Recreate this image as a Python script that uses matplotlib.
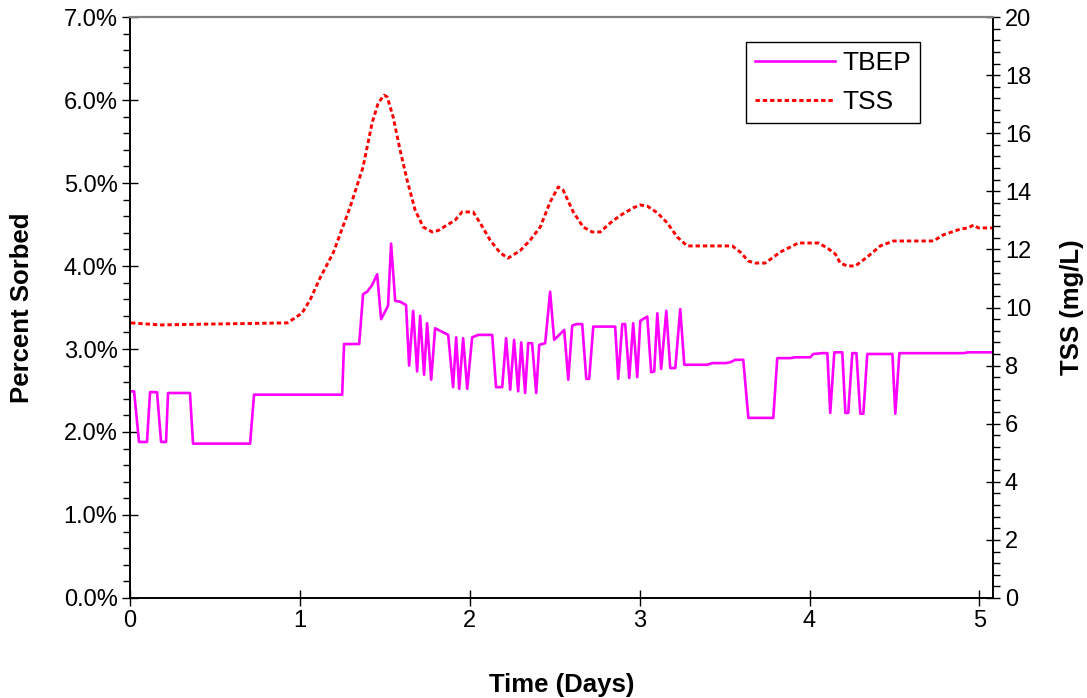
import matplotlib.pyplot as plt
from matplotlib.ticker import MultipleLocator, FuncFormatter

plt.rcParams['font.family'] = ['Liberation Sans', 'DejaVu Sans']

# TBEP, percent sorbed (left axis)
tbep_days = [0.006, 0.024, 0.053, 0.100, 0.118, 0.159, 0.183, 0.212, 0.224, 0.353,
             0.371, 0.707, 0.730, 1.249, 1.260, 1.349, 1.372, 1.396, 1.425, 1.455,
             1.478, 1.519, 1.537, 1.561, 1.590, 1.625, 1.643, 1.667, 1.690, 1.708,
             1.731, 1.749, 1.773, 1.796, 1.873, 1.902, 1.920, 1.938, 1.961, 1.985,
             2.014, 2.049, 2.132, 2.155, 2.191, 2.214, 2.238, 2.261, 2.285, 2.303,
             2.326, 2.344, 2.367, 2.391, 2.409, 2.444, 2.473, 2.497, 2.556, 2.580,
             2.603, 2.627, 2.662, 2.686, 2.703, 2.727, 2.856, 2.874, 2.898, 2.915,
             2.939, 2.962, 2.986, 3.004, 3.045, 3.068, 3.086, 3.104, 3.127, 3.157,
             3.180, 3.210, 3.239, 3.263, 3.398, 3.428, 3.504, 3.534, 3.563, 3.610,
             3.640, 3.787, 3.810, 3.887, 3.916, 4.005, 4.022, 4.075, 4.105, 4.122,
             4.146, 4.193, 4.211, 4.228, 4.252, 4.276, 4.299, 4.317, 4.340, 4.488,
             4.505, 4.529, 4.906, 4.935, 5.082]
tbep_pct = [2.49, 2.49, 1.88, 1.88, 2.48, 2.48, 1.88, 1.88, 2.47, 2.47,
            1.86, 1.86, 2.45, 2.45, 3.06, 3.06, 3.66, 3.69, 3.77, 3.90,
            3.36, 3.52, 4.27, 3.58, 3.57, 3.53, 2.80, 3.46, 2.73, 3.40,
            2.69, 3.31, 2.63, 3.25, 3.17, 2.54, 3.14, 2.52, 3.13, 2.52,
            3.14, 3.17, 3.17, 2.54, 2.54, 3.13, 2.51, 3.11, 2.49, 3.08,
            2.47, 3.07, 3.07, 2.47, 3.05, 3.07, 3.69, 3.11, 3.23, 2.63,
            3.28, 3.30, 3.30, 2.64, 2.64, 3.27, 3.27, 2.64, 3.30, 3.30,
            2.65, 3.31, 2.66, 3.34, 3.39, 2.72, 2.73, 3.43, 2.76, 3.46,
            2.77, 2.77, 3.48, 2.81, 2.81, 2.83, 2.83, 2.84, 2.87, 2.87,
            2.17, 2.17, 2.89, 2.89, 2.90, 2.90, 2.94, 2.95, 2.95, 2.23,
            2.96, 2.96, 2.23, 2.23, 2.95, 2.95, 2.22, 2.22, 2.94, 2.94,
            2.22, 2.95, 2.95, 2.96, 2.96]

# TSS, mg/L (right axis)
tss_days = [0.006, 0.177, 0.471, 0.925, 0.960, 1.013, 1.060, 1.119, 1.196, 1.296,
            1.372, 1.425, 1.461, 1.496, 1.514, 1.549, 1.590, 1.631, 1.678, 1.726,
            1.779, 1.814, 1.867, 1.914, 1.955, 2.020, 2.061, 2.120, 2.179, 2.226,
            2.297, 2.356, 2.415, 2.473, 2.521, 2.550, 2.609, 2.668, 2.721, 2.768,
            2.827, 2.886, 2.962, 3.004, 3.045, 3.104, 3.163, 3.221, 3.280, 3.545,
            3.592, 3.640, 3.681, 3.740, 3.828, 3.887, 3.934, 4.052, 4.105, 4.152,
            4.181, 4.223, 4.270, 4.340, 4.417, 4.494, 4.729, 4.788, 4.888, 4.935,
            4.965, 4.994, 5.082]
tss_mgl = [9.47, 9.40, 9.43, 9.47, 9.60, 9.81, 10.26, 11.02, 11.88, 13.46,
           14.84, 16.35, 17.04, 17.31, 17.25, 16.56, 15.42, 14.39, 13.36, 12.77,
           12.60, 12.65, 12.84, 13.01, 13.29, 13.29, 12.91, 12.32, 11.88, 11.70,
           11.96, 12.32, 12.77, 13.63, 14.15, 14.04, 13.29, 12.77, 12.60, 12.60,
           12.91, 13.17, 13.43, 13.53, 13.49, 13.26, 12.91, 12.43, 12.12, 12.12,
           11.91, 11.60, 11.53, 11.53, 11.91, 12.08, 12.22, 12.22, 12.05, 11.84,
           11.53, 11.43, 11.43, 11.74, 12.12, 12.29, 12.29, 12.50, 12.70, 12.74,
           12.84, 12.74, 12.74]

fig = plt.figure(figsize=(10.87, 6.98), dpi=100)
ax = fig.add_axes([0.1196, 0.1433, 0.7939, 0.8323])
ax2 = ax.twinx()

l1, = ax.plot(tbep_days, tbep_pct, color='#ff00ff', lw=1.9, label='TBEP')
l2, = ax2.plot(tss_days, tss_mgl, color='#ff0000', lw=2.1,
               linestyle=(0, (1.5, 1.0)), label='TSS')

ax.set_xlim(0, 5.08)
ax.set_ylim(0, 7)
ax2.set_ylim(0, 20)

ax.xaxis.set_major_locator(MultipleLocator(1))
ax.yaxis.set_major_locator(MultipleLocator(1))
ax.yaxis.set_minor_locator(MultipleLocator(0.2))
ax.yaxis.set_major_formatter(FuncFormatter(lambda v, p: f'{v:.1f}%'))
ax2.yaxis.set_major_locator(MultipleLocator(2))
ax2.yaxis.set_minor_locator(MultipleLocator(0.4))

ax.tick_params(axis='both', which='major', direction='inout', length=11, width=1,
               labelsize=17)
ax.tick_params(axis='y', which='minor', direction='out', length=5, width=1)
ax2.tick_params(axis='y', which='major', direction='inout', length=10, width=1,
                labelsize=17)
ax2.tick_params(axis='y', which='minor', direction='out', length=5, width=1)

for a in (ax, ax2):
    a.spines['top'].set_color('#808080')
    a.spines['top'].set_linewidth(1.5)
    a.spines['left'].set_linewidth(1.2)
    a.spines['right'].set_linewidth(1.2)
    a.spines['bottom'].set_linewidth(1.2)

ax.set_xlabel('Time (Days)', fontsize=18.5, fontweight='bold', labelpad=29)
ax.set_ylabel('Percent Sorbed', fontsize=18.5, fontweight='bold', labelpad=21)
ax2.set_ylabel('TSS (mg/L)', fontsize=18.5, fontweight='bold', labelpad=21)

leg = ax2.legend([l1, l2], ['TBEP', 'TSS'], loc='upper left',
                 bbox_to_anchor=(0.714, 0.957), borderaxespad=0, fontsize=19,
                 fancybox=False, edgecolor='black', framealpha=1,
                 handlelength=3.0, handletextpad=0.3, borderpad=0.35,
                 labelspacing=0.55)
leg.get_frame().set_linewidth(1.0)

fig.savefig('out.png', dpi=100)
